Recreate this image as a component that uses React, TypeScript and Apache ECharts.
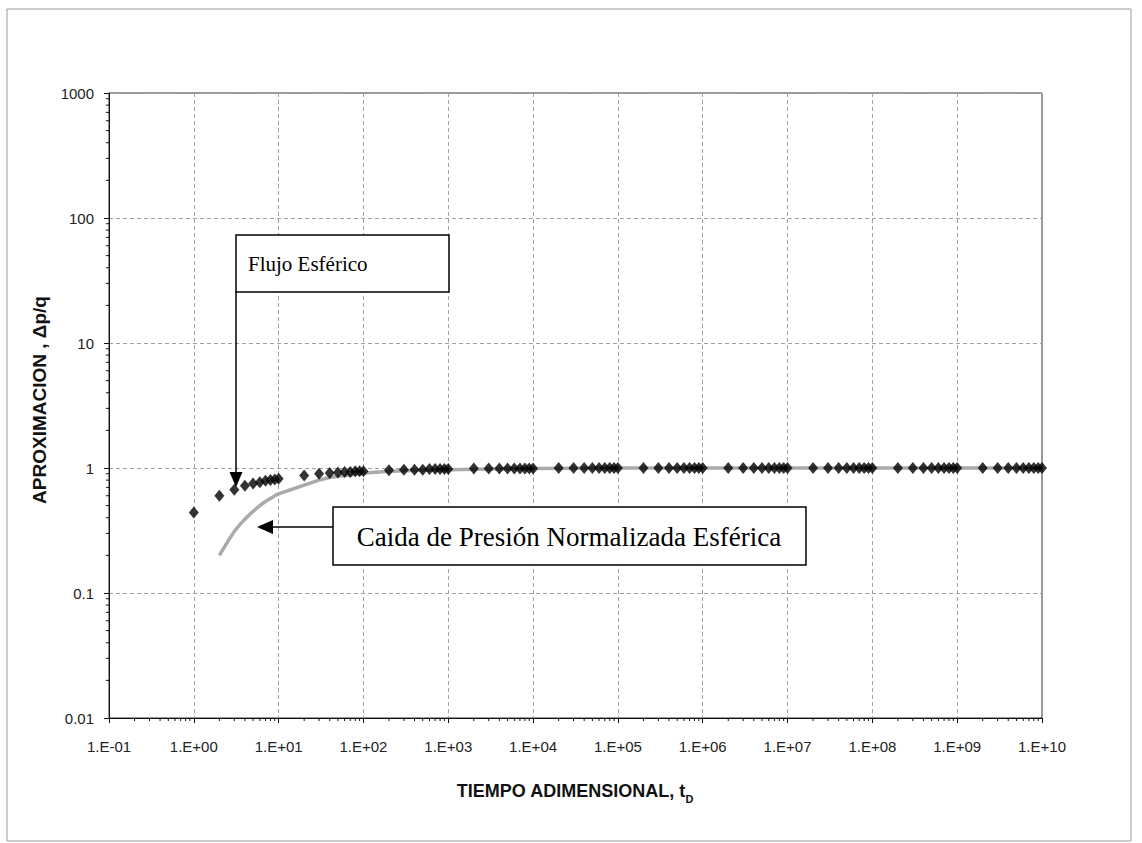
import React, { useEffect, useRef } from 'react';
import * as echarts from 'echarts';

// Dimensionless time (x) for the approximation series
const tD = [
  1, 2, 3, 4, 5, 6, 7, 8, 9,
  10, 20, 30, 40, 50, 60, 70, 80, 90,
  100, 200, 300, 400, 500, 600, 700, 800, 900,
  1e3, 2e3, 3e3, 4e3, 5e3, 6e3, 7e3, 8e3, 9e3,
  1e4, 2e4, 3e4, 4e4, 5e4, 6e4, 7e4, 8e4, 9e4,
  1e5, 2e5, 3e5, 4e5, 5e5, 6e5, 7e5, 8e5, 9e5,
  1e6, 2e6, 3e6, 4e6, 5e6, 6e6, 7e6, 8e6, 9e6,
  1e7, 2e7, 3e7, 4e7, 5e7, 6e7, 7e7, 8e7, 9e7,
  1e8, 2e8, 3e8, 4e8, 5e8, 6e8, 7e8, 8e8, 9e8,
  1e9, 2e9, 3e9, 4e9, 5e9, 6e9, 7e9, 8e9, 9e9,
  1e10,
];

// Approximation Δp/q (diamonds)
const aproximacion = [
  0.44, 0.60, 0.67, 0.72, 0.75, 0.77, 0.79, 0.80, 0.81,
  0.82, 0.87, 0.90, 0.91, 0.92, 0.93, 0.93, 0.94, 0.94,
  0.94, 0.96, 0.97, 0.97, 0.97, 0.98, 0.98, 0.98, 0.98,
  0.98, 0.99, 0.99, 0.99, 0.99, 0.99, 0.99, 0.99, 0.99,
  0.99, 1, 1, 1, 1, 1, 1, 1, 1,
  1, 1, 1, 1, 1, 1, 1, 1, 1,
  1, 1, 1, 1, 1, 1, 1, 1, 1,
  1, 1, 1, 1, 1, 1, 1, 1, 1,
  1, 1, 1, 1, 1, 1, 1, 1, 1,
  1, 1, 1, 1, 1, 1, 1, 1, 1,
  1,
];

// Normalized spherical pressure drop (grey curve)
const tCurve = [2, 3, 4, 5, 6, 7, 8, 9, 10, 20, 30, 40, 50, 60, 70, 80, 90, 100, 200, 300, 500, 1e3, 1e4, 1e5, 1e6, 1e7, 1e8, 1e9, 1e10];
const caidaPresion = [0.20, 0.31, 0.39, 0.45, 0.50, 0.54, 0.57, 0.60, 0.62, 0.73, 0.80, 0.84, 0.86, 0.87, 0.88, 0.89, 0.90, 0.91, 0.94, 0.95, 0.96, 0.97, 0.99, 1, 1, 1, 1, 1, 1];

const xTickLabels = ['1.E-01', '1.E+00', '1.E+01', '1.E+02', '1.E+03', '1.E+04', '1.E+05', '1.E+06', '1.E+07', '1.E+08', '1.E+09', '1.E+10'];
const yTickLabels = ['0.01', '0.1', '1', '10', '100', '1000'];

const xTitle = 'TIEMPO ADIMENSIONAL, t';
const xTitleSub = 'D';
const yTitle = 'APROXIMACION , Δp/q';
const label1 = 'Flujo Esférico';
const label2 = 'Caida de Presión Normalizada Esférica';

export default function App() {
  const ref = useRef<HTMLDivElement>(null);

  useEffect(() => {
    if (!ref.current) return;
    const chart = echarts.init(ref.current, null, { renderer: 'svg' });

    const xMinor: number[][] = [];
    for (let k = -1; k <= 9; k++) {
      for (let d = 2; d <= 9; d++) xMinor.push([d * Math.pow(10, k), 0.01]);
    }
    const yMinor: number[][] = [];
    for (let k = -2; k <= 2; k++) {
      for (let d = 2; d <= 9; d++) yMinor.push([0.1, d * Math.pow(10, k)]);
    }

    const sans = 'Liberation Sans, Arial, sans-serif';
    const serif = 'Liberation Serif, Times New Roman, serif';

    chart.setOption({
      animation: false,
      backgroundColor: '#ffffff',
      grid: {
        left: 109,
        right: 100,
        top: 93,
        bottom: 125,
        show: true,
        borderColor: '#333',
        borderWidth: 1,
        backgroundColor: 'transparent',
      },
      xAxis: {
        type: 'log',
        logBase: 10,
        min: 0.1,
        max: 1e10,
        splitNumber: 11,
        interval: 1,
        axisLine: { show: true, onZero: false, lineStyle: { color: '#111', width: 1 } },
        axisTick: { show: true, length: 5, lineStyle: { color: '#111' } },
        axisLabel: {
          margin: 21,
          fontSize: 15,
          fontFamily: sans,
          color: '#222',
          formatter: (v: number) => xTickLabels[Math.round(Math.log10(v)) + 1] ?? '',
        },
        splitLine: { show: true, lineStyle: { color: '#a0a0a0', width: 1, type: [4, 3] } },
      },
      yAxis: {
        type: 'log',
        logBase: 10,
        min: 0.01,
        max: 1000,
        splitNumber: 5,
        interval: 1,
        axisLine: { show: true, onZero: false, lineStyle: { color: '#111', width: 1 } },
        axisTick: { show: true, length: 5, lineStyle: { color: '#111' } },
        axisLabel: {
          margin: 15,
          fontSize: 15,
          fontFamily: sans,
          color: '#222',
          formatter: (v: number) => yTickLabels[Math.round(Math.log10(v)) + 2] ?? '',
        },
        splitLine: { show: true, lineStyle: { color: '#a0a0a0', width: 1, type: [4, 3] } },
      },
      series: [
        {
          type: 'line',
          name: 'Caida de Presión',
          data: tCurve.map((t, i) => [t, caidaPresion[i]]),
          showSymbol: false,
          symbol: 'none',
          smooth: 0.2,
          lineStyle: { color: '#aaaaaa', width: 3.5 },
          z: 2,
        },
        {
          type: 'scatter',
          name: 'Aproximacion',
          data: tD.map((t, i) => [t, aproximacion[i]]),
          symbol: 'diamond',
          symbolSize: [10, 12],
          itemStyle: { color: '#000' },
          z: 3,
        },
        {
          type: 'custom',
          silent: true,
          clip: false,
          data: xMinor,
          renderItem: (params: any, api: any) => {
            const p = api.coord([api.value(0), api.value(1)]);
            return {
              type: 'line',
              shape: { x1: p[0], y1: p[1], x2: p[0], y2: p[1] + 3 },
              style: { stroke: '#111', lineWidth: 1 },
            };
          },
          z: 4,
        },
        {
          type: 'custom',
          silent: true,
          clip: false,
          data: yMinor,
          renderItem: (params: any, api: any) => {
            const p = api.coord([api.value(0), api.value(1)]);
            return {
              type: 'line',
              shape: { x1: p[0] - 3, y1: p[1], x2: p[0], y2: p[1] },
              style: { stroke: '#111', lineWidth: 1 },
            };
          },
          z: 4,
        },
      ],
      graphic: [
        {
          type: 'rect',
          shape: { x: 7, y: 9, width: 1124, height: 832 },
          style: { fill: 'none', stroke: '#999', lineWidth: 1 },
          silent: true,
          z: 0,
        },
        {
          type: 'text',
          x: 575,
          y: 791,
          style: {
            text: xTitle + '{sub|' + xTitleSub + '}',
            align: 'center',
            verticalAlign: 'middle',
            fontSize: 18,
            fontWeight: 'bold',
            fontFamily: sans,
            fill: '#111',
            lineHeight: 22,
            rich: {
              sub: { fontSize: 11, fontWeight: 'bold', fontFamily: sans, fill: '#111', verticalAlign: 'bottom', lineHeight: 27 },
            },
          },
          z: 10,
        },
        {
          type: 'text',
          x: 39,
          y: 400,
          rotation: Math.PI / 2,
          style: {
            text: yTitle,
            align: 'center',
            verticalAlign: 'middle',
            fontSize: 19,
            fontWeight: 'bold',
            fontFamily: sans,
            fill: '#111',
          },
          z: 10,
        },
        // Flujo Esférico box and arrow
        {
          type: 'line',
          shape: { x1: 236, y1: 292, x2: 236, y2: 474 },
          style: { stroke: '#000', lineWidth: 1.5 },
          z: 20,
        },
        {
          type: 'polygon',
          shape: { points: [[229.5, 472], [242.5, 472], [236, 487]] },
          style: { fill: '#000' },
          z: 20,
        },
        {
          type: 'rect',
          shape: { x: 236, y: 235, width: 213, height: 57 },
          style: { fill: '#fff', stroke: '#000', lineWidth: 1.5 },
          z: 20,
        },
        {
          type: 'text',
          x: 248,
          y: 264,
          style: { text: label1, fontSize: 21, fontFamily: serif, fill: '#000', verticalAlign: 'middle', align: 'left' },
          z: 21,
        },
        // Caida de Presión box and arrow
        {
          type: 'line',
          shape: { x1: 333, y1: 527, x2: 271, y2: 527 },
          style: { stroke: '#000', lineWidth: 1.5 },
          z: 20,
        },
        {
          type: 'polygon',
          shape: { points: [[273, 520], [273, 534], [257, 527]] },
          style: { fill: '#000' },
          z: 20,
        },
        {
          type: 'rect',
          shape: { x: 333, y: 507, width: 473, height: 58 },
          style: { fill: '#fff', stroke: '#000', lineWidth: 1.5 },
          z: 20,
        },
        {
          type: 'text',
          x: 569,
          y: 537,
          style: { text: label2, fontSize: 27, fontFamily: serif, fill: '#000', verticalAlign: 'middle', align: 'center' },
          z: 21,
        },
      ],
    });

    return () => {
      chart.dispose();
    };
  }, []);

  return (
    <div
      ref={ref}
      style={{ position: 'absolute', left: 0, top: 0, width: 1142, height: 843, background: '#fff' }}
    />
  );
}
